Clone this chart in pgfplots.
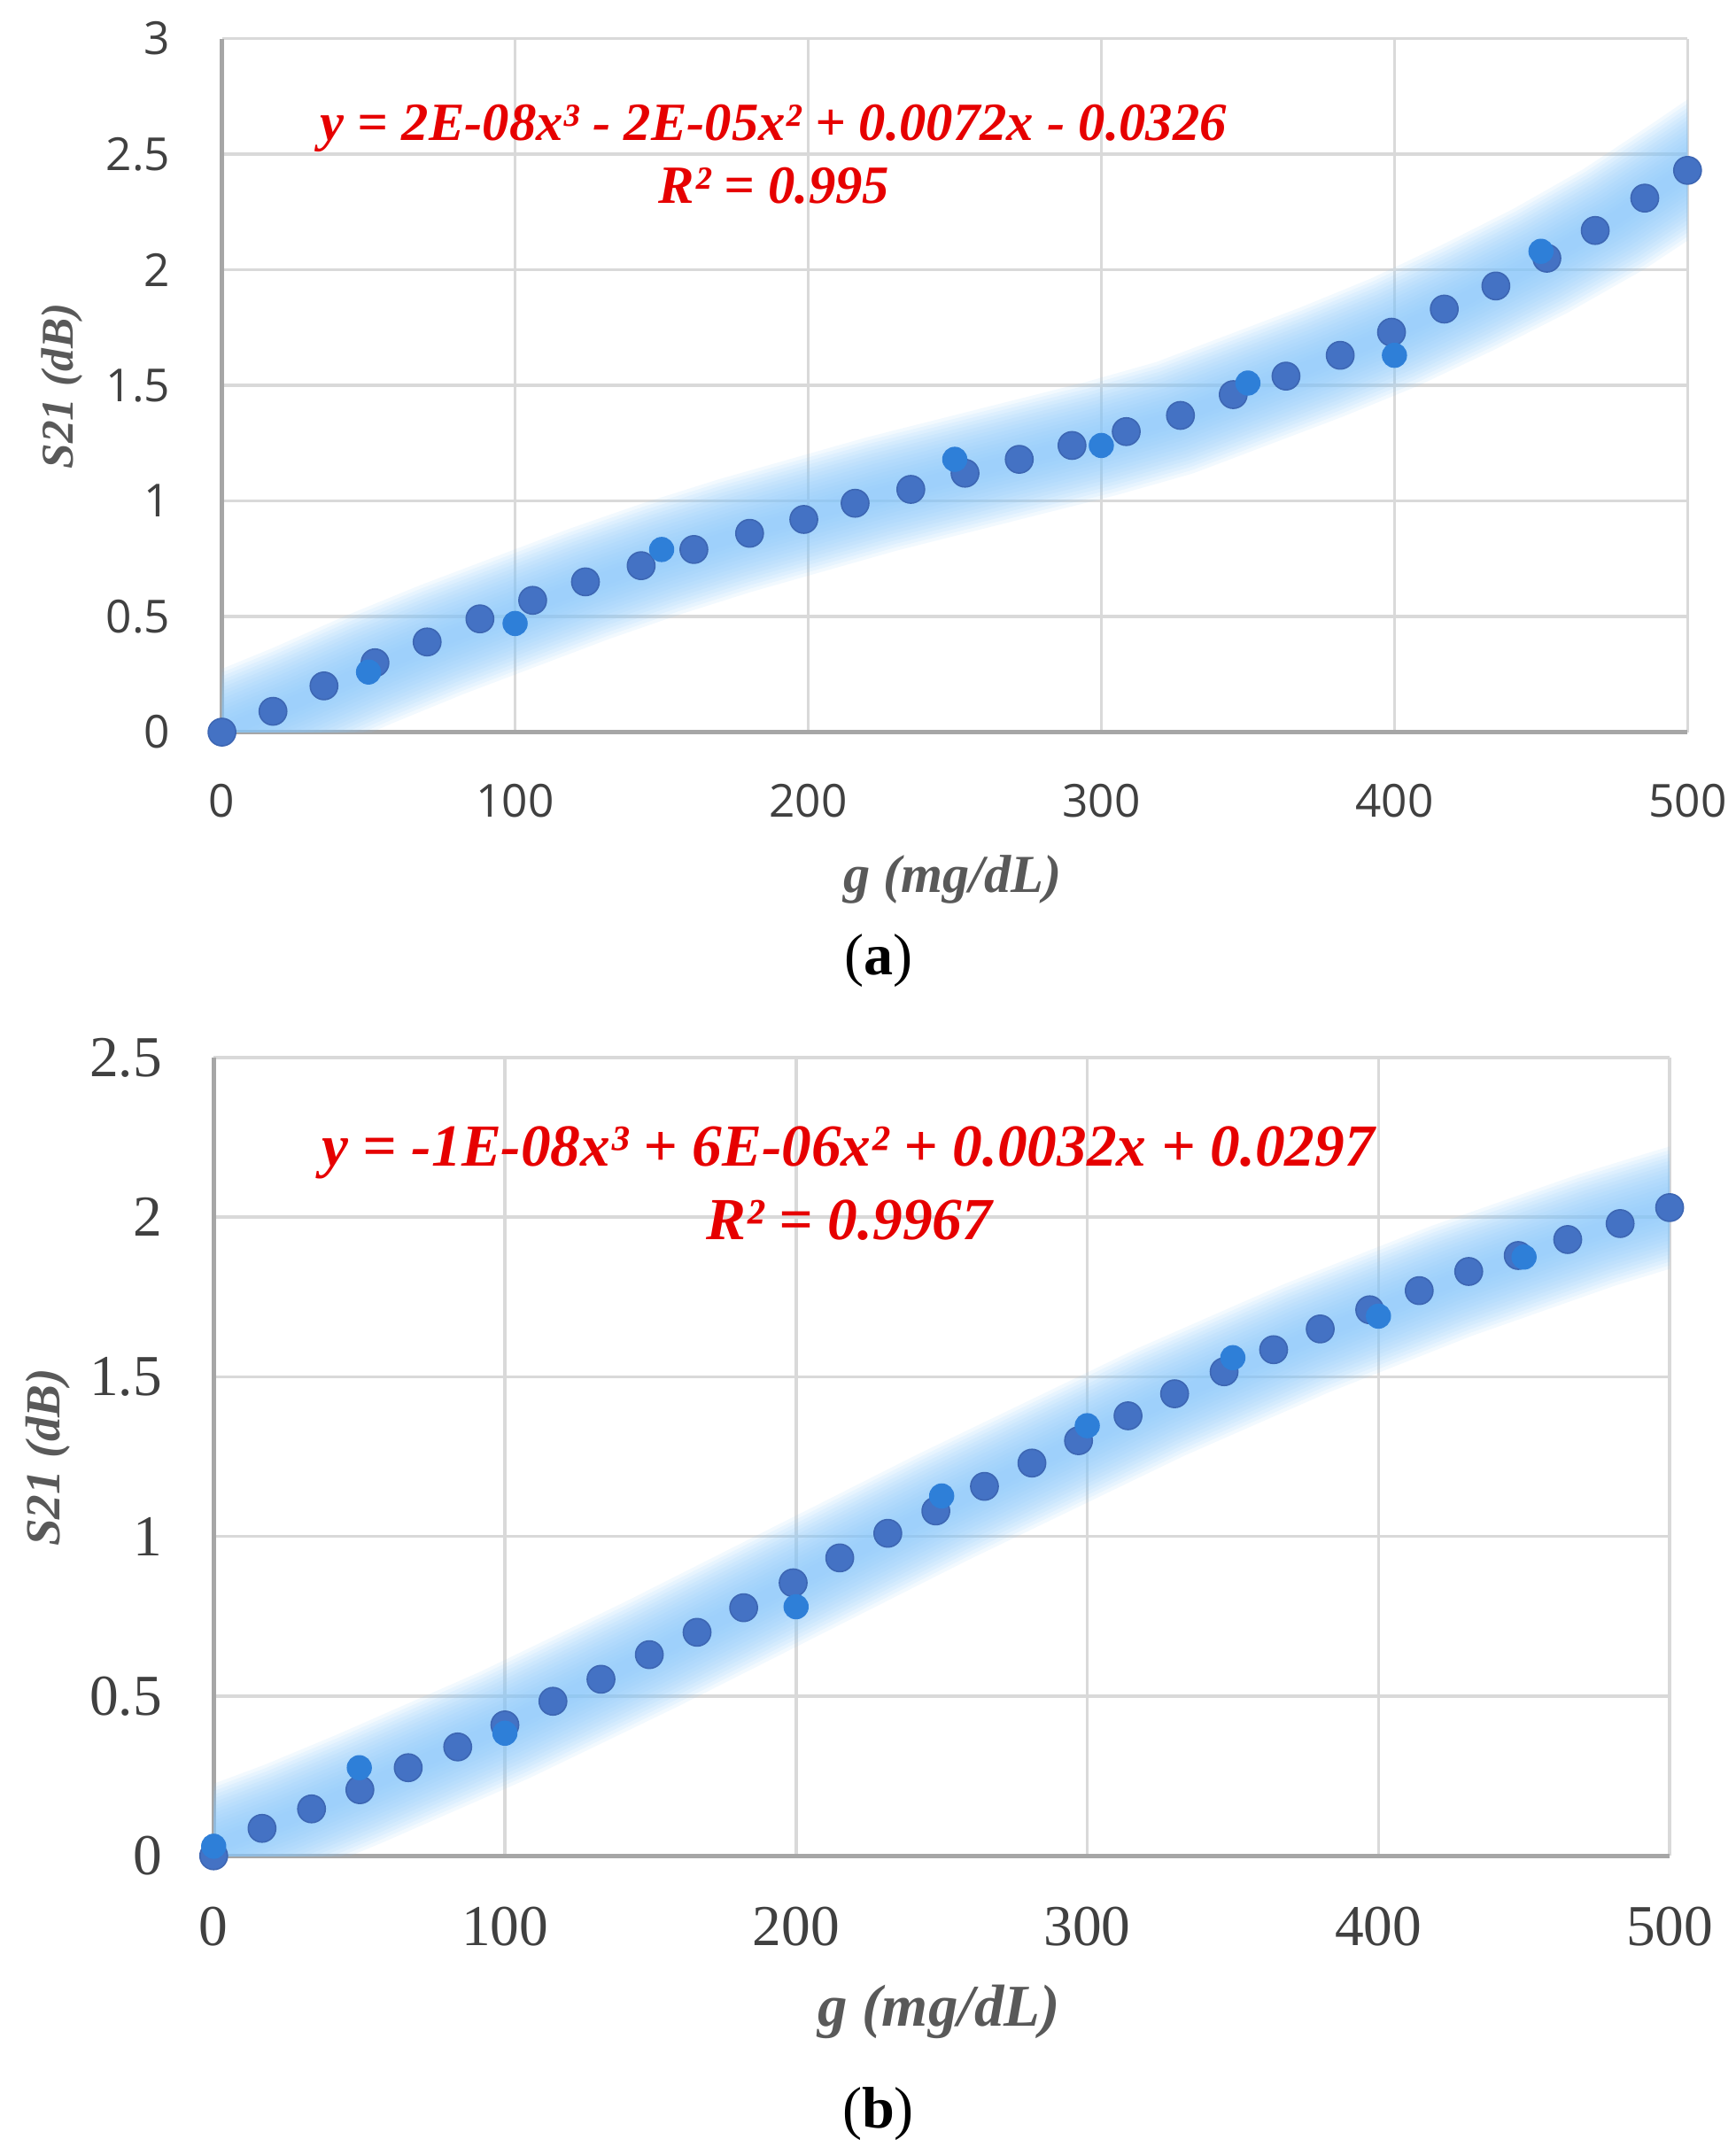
\documentclass[border=0pt]{standalone}
\usepackage{fontspec}
\setmainfont{Liberation Serif}
\newfontfamily\tickfont{Open Sans}
\usepackage{pgfplots}
\usepackage{pgfplotstable}
\pgfplotsset{compat=1.18}
\definecolor{darkblue}{HTML}{4472C4}
\definecolor{darkedge}{HTML}{3D66B3}
\definecolor{lightblue}{HTML}{2E7FD8}
\definecolor{glow}{RGB}{140,200,250}
\definecolor{gridgray}{HTML}{D9D9D9}
\definecolor{axisgray}{HTML}{A6A6A6}
\definecolor{labgray}{HTML}{595959}
\definecolor{tickgray}{HTML}{404040}
\definecolor{eqred}{RGB}{230,0,0}

% ---------- data (a) ----------
\pgfplotstableread{
x y
0 0
17.4 0.09
34.8 0.20
52.2 0.30
70 0.39
88 0.49
106 0.57
124 0.65
143 0.72
161 0.79
180 0.86
198.5 0.92
216 0.99
235 1.05
253.5 1.12
272 1.18
290 1.24
308.5 1.30
327 1.37
345 1.46
363 1.54
381.5 1.63
399 1.73
417 1.83
434.6 1.93
452 2.05
468.5 2.17
485.4 2.31
500 2.43
}\darkA
\pgfplotstableread{
x y
50 0.26
100 0.47
150 0.79
250 1.18
300 1.24
350 1.51
400 1.63
450 2.08
}\lightA
\pgfplotstableread{
x y
-15 -0.08
0 0.0
25 0.13
50 0.27
75 0.40
100 0.52
125 0.64
150 0.75
175 0.85
200 0.94
225 1.03
250 1.11
275 1.19
300 1.27
325 1.36
350 1.48
375 1.60
400 1.73
425 1.88
450 2.04
475 2.22
500 2.43
515 2.56
}\trendA
% ---------- data (b) ----------
\pgfplotstableread{
x y
0 0
16.6 0.086
33.6 0.147
50.2 0.207
66.8 0.276
83.8 0.341
100 0.41
116.5 0.484
133 0.553
149.6 0.63
166 0.70
182 0.777
199 0.855
215 0.933
231.5 1.01
248 1.08
264.7 1.157
281 1.23
297 1.30
314 1.378
330 1.447
347 1.516
364 1.585
380 1.65
397 1.71
414 1.77
431 1.83
448 1.88
465 1.93
483 1.98
500 2.03
}\darkB
\pgfplotstableread{
x y
0 0.03
50 0.276
100 0.384
200 0.78
250 1.127
300 1.347
350 1.56
400 1.69
450 1.875
}\lightB
\pgfplotstableread{
x y
-15 -0.03
0 0.03
25 0.115
50 0.21
75 0.31
100 0.41
125 0.52
150 0.63
175 0.745
200 0.86
225 0.975
250 1.09
275 1.20
300 1.31
325 1.42
350 1.52
375 1.62
400 1.71
425 1.80
450 1.88
475 1.96
500 2.03
515 2.07
}\trendB

\pgfplotsset{
  glowstyle/.style={no markers, draw=glow, line join=round, line cap=butt, forget plot},
  common/.style={scale only axis, xmin=0, xmax=500, ymin=0,
    xtick={0,100,...,500}, grid=major,
    grid style={draw=gridgray, line width=0.9pt},
    axis x line*=bottom, axis y line*=left,
    axis line style={-, draw=axisgray, line width=1.2pt},
    major tick length=0pt,
    /pgf/number format/assume math mode=true,
  },
  darkmarks/.style={only marks, mark=*, mark size=4pt, color=darkblue,
    mark options={draw=darkedge, fill=darkblue, line width=0.4pt}},
  lightmarks/.style={only marks, mark=*, mark size=3.5pt, color=lightblue,
    mark options={draw=lightblue, fill=lightblue, line width=0.3pt}},
}

\begin{document}
\begin{tikzpicture}
\path[use as bounding box] (0,0) rectangle (503.6pt,-625.2pt);

% ================= (a) =================
\begin{axis}[common,
  at={(64.4pt,-212.4pt)}, anchor=south west,
  width=425.2pt, height=201.2pt,
  ymax=3, ytick={0,0.5,...,3},
  yticklabel style={font=\fontsize{13.2}{15}\selectfont\tickfont, text=tickgray,
    anchor=east, inner sep=0pt, xshift=-14.8pt},
  xticklabel style={font=\fontsize{13.2}{15}\selectfont\tickfont, text=tickgray,
    anchor=center, inner sep=0pt, yshift=-20pt},
]
\pgfplotsinvokeforeach{34,32,...,4}{
  \addplot[glowstyle, line width=#1pt, opacity=0.11] table {\trendA};
}
\addplot[darkmarks] table {\darkA};
\addplot[lightmarks] table {\lightA};
\end{axis}

\node[font=\fontsize{15.6}{18}\selectfont\bfseries\itshape, text=eqred]
  at (224.4pt,-37.2pt) {y = 2E-08x³ - 2E-05x² + 0.0072x - 0.0326};
\node[font=\fontsize{15.6}{18}\selectfont\bfseries\itshape, text=eqred]
  at (224.6pt,-54pt) {R² = 0.995};
\node[font=\fontsize{15.5}{18}\selectfont\bfseries\itshape, text=labgray]
  at (276.4pt,-255.2pt) {g (mg/dL)};
\node[rotate=90, font=\fontsize{13.2}{15}\selectfont\bfseries\itshape, text=labgray]
  at (18pt,-112pt) {S21 (dB)};
\node[font=\fontsize{17}{20}\selectfont] at (254.8pt,-278.8pt) {(\textbf{a})};

% ================= (b) =================
\begin{axis}[common,
  at={(62pt,-538.4pt)}, anchor=south west,
  width=422.4pt, height=231.6pt,
  ymax=2.5, ytick={0,0.5,...,2.5},
  yticklabel style={font=\fontsize{16.8}{19}\selectfont, text=tickgray,
    anchor=east, inner sep=0pt, xshift=-14.8pt},
  xticklabel style={font=\fontsize{16.8}{19}\selectfont, text=tickgray,
    anchor=center, inner sep=0pt, yshift=-20.4pt},
]
\pgfplotsinvokeforeach{34,32,...,4}{
  \addplot[glowstyle, line width=#1pt, opacity=0.11] table {\trendB};
}
\addplot[darkmarks] table {\darkB};
\addplot[lightmarks] table {\lightB};
\end{axis}

\node[font=\fontsize{17.3}{20}\selectfont\bfseries\itshape, text=eqred]
  at (246pt,-334.4pt) {y = -1E-08x³ + 6E-06x² + 0.0032x + 0.0297};
\node[font=\fontsize{17.3}{20}\selectfont\bfseries\itshape, text=eqred]
  at (246.4pt,-354pt) {R² = 0.9967};
\node[font=\fontsize{17.2}{20}\selectfont\bfseries\itshape, text=labgray]
  at (272.4pt,-583.6pt) {g (mg/dL)};
\node[rotate=90, font=\fontsize{14.2}{16}\selectfont\bfseries\itshape, text=labgray]
  at (14pt,-422.8pt) {S21 (dB)};
\node[font=\fontsize{17}{20}\selectfont] at (254.8pt,-613.2pt) {(\textbf{b})};
\end{tikzpicture}
\end{document}
